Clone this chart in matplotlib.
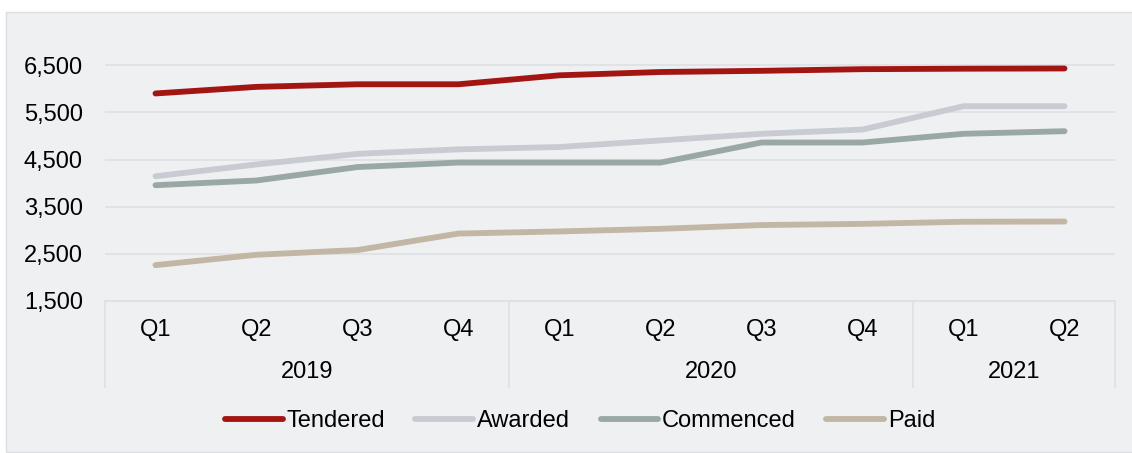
import numpy as np
import matplotlib
matplotlib.use('Agg')
import matplotlib.pyplot as plt
from matplotlib.patches import Rectangle

plt.rcParams['font.family'] = ['Liberation Sans', 'DejaVu Sans']

### Data
quarters = ['Q1', 'Q2', 'Q3', 'Q4', 'Q1', 'Q2', 'Q3', 'Q4', 'Q1', 'Q2']
years = ['2019', '2020', '2021']
year_spans = [(0, 4), (4, 8), (8, 10)]   # start / end index of each year group

tendered = [5900, 6040, 6095, 6095, 6285, 6355, 6380, 6415, 6425, 6430]
awarded = [4145, 4395, 4620, 4715, 4765, 4905, 5045, 5135, 5630, 5630]
commenced = [3955, 4055, 4340, 4435, 4435, 4435, 4860, 4860, 5045, 5100]
paid = [2260, 2480, 2580, 2930, 2975, 3030, 3110, 3135, 3180, 3185]

series = [('Tendered', tendered, '#a31512'),
          ('Awarded', awarded, '#c9cbd2'),
          ('Commenced', commenced, '#9aa8a5'),
          ('Paid', paid, '#c2b6a4')]

yticks = [1500, 2500, 3500, 4500, 5500, 6500]

W, H = 1132, 453
fig = plt.figure(figsize=(W / 100, H / 100), dpi=100, facecolor='white')

# grey panel behind the chart
fig.patches.append(Rectangle((6 / W, 1 / H), 1130 / W, 440 / H, transform=fig.transFigure,
                             facecolor='#eff0f2', edgecolor='#dcdde0', linewidth=1, zorder=-10))

ax = fig.add_axes([105 / W, (H - 301) / H, 1010 / W, 283 / H])
ax.set_facecolor('none')

x = np.arange(len(quarters))
for name, vals, col in series:
    ax.plot(x, vals, color=col, linewidth=4.2, solid_capstyle='round', label=name, zorder=3)

ax.set_xlim(-0.5, len(quarters) - 0.5)
ax.set_ylim(1500, 7500)
ax.set_yticks(yticks)
ax.set_yticklabels(['{:,}'.format(v) for v in yticks])
ax.tick_params(axis='y', length=0, pad=16, labelsize=17)
ax.set_xticks([])
ax.grid(axis='y', color='#dfe0e3', linewidth=1.2)
ax.set_axisbelow(True)
for s in ['top', 'right', 'left']:
    ax.spines[s].set_visible(False)
ax.spines['bottom'].set_color('#dfe0e3')
ax.spines['bottom'].set_linewidth(1.2)

# two-level category axis
tr = ax.get_xaxis_transform()
for i, q in enumerate(quarters):
    ax.text(i, -0.1025, q, transform=tr, ha='center', va='center', fontsize=17)
for yr, (a, b) in zip(years, year_spans):
    ax.text((a + b - 1) / 2, -0.251, yr, transform=tr, ha='center', va='center', fontsize=17)
for edge in [0, 4, 8, 10]:
    ax.plot([edge - 0.5, edge - 0.5], [0, -0.304], transform=tr, color='#dfe0e3',
            linewidth=1.2, clip_on=False)

fig.legend(loc='center', bbox_to_anchor=(580 / W, (H - 421) / H), ncol=4, frameon=False,
           fontsize=17, handlelength=2.45, handletextpad=0.15, columnspacing=1.3)

fig.savefig('out.png', dpi=100)
